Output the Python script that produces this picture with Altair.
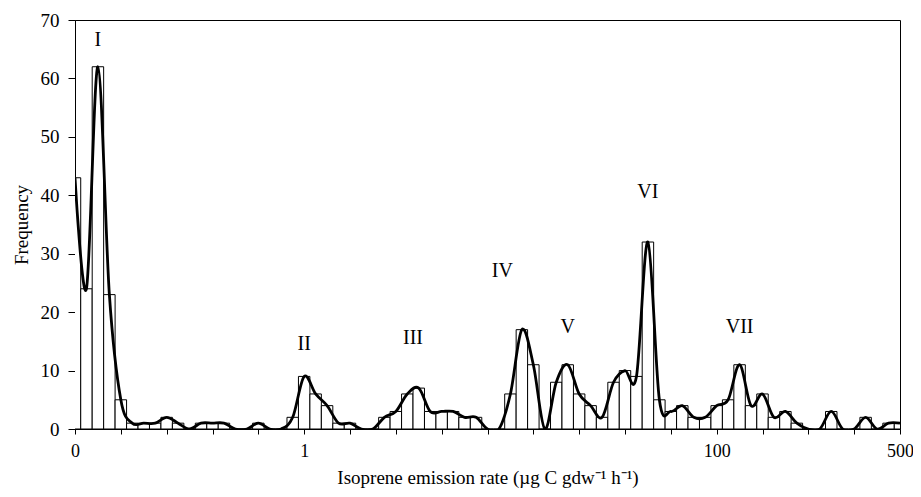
import altair as alt
import pandas as pd

# bin index along the (Excel category-like) x axis
bins = list(range(73))
freq = [43, 24, 62, 23, 5, 1, 1, 1, 2, 1,
        0, 1, 1, 1, 0, 0, 1, 0, 0, 2,
        9, 6, 4, 1, 1, 0, 0, 2, 3, 6,
        7, 3, 3, 3, 2, 2, 0, 0, 6, 17,
        11, 0, 8, 11, 6, 4, 2, 8, 10, 9,
        32, 5, 3, 4, 2, 2, 4, 5, 11, 4,
        6, 2, 3, 1, 0, 0, 3, 0, 0, 2,
        0, 1, 1]

tick_bins = list(range(0, 73, 2))
axis_label_bins = [0, 20, 38, 56, 72]
axis_label_text = ["0", "1", "10", "100", "500"]

peak_names = ["I", "II", "III", "IV", "V", "VI", "VII"]
peak_bins = [2, 20, 29.5, 37.3, 43, 50, 58]
peak_label_y = [66.5, 14.5, 15.5, 27, 17.5, 40.5, 17.5]

FONT = "Liberation Serif"

df = pd.DataFrame({"bin": bins, "freq": freq})
df["lo"] = df["bin"] - 0.5
df["hi"] = df["bin"] + 0.5
peaks = pd.DataFrame({"name": peak_names, "bin": peak_bins, "y": peak_label_y})

expr = "''"
for b, t in reversed(list(zip(axis_label_bins, axis_label_text))):
    expr = f"datum.value == {b} ? '{t}' : ({expr})"

xscale = alt.Scale(domain=[0, 72], nice=False, zero=False)
yscale = alt.Scale(domain=[0, 70], nice=False)

xaxis = alt.Axis(values=tick_bins, labelExpr=expr, tickSize=5, labelPadding=8,
                 labelFlush=False, labelOverlap=False, grid=False, labelFontSize=18,
                 title="Isoprene emission rate (µg C gdw⁻¹ h⁻¹)", titlePadding=8)
yaxis = alt.Axis(values=list(range(0, 71, 10)), tickSize=7, labelPadding=9,
                 grid=False, title="Frequency", titlePadding=9)

base = alt.Chart(df)

bars = base.mark_rect(fill="white", stroke="black", strokeWidth=1, clip=True).encode(
    x=alt.X("lo:Q", scale=xscale, axis=xaxis),
    x2="hi:Q",
    y=alt.Y("freq:Q", scale=yscale, axis=yaxis),
    y2=alt.datum(0),
)

line = base.mark_line(color="black", strokeWidth=2.8, interpolate="cardinal", clip=True).encode(
    x=alt.X("bin:Q", scale=xscale),
    y=alt.Y("freq:Q", scale=yscale),
)

labels = alt.Chart(peaks).mark_text(font=FONT, fontSize=20, baseline="middle", color="black").encode(
    x=alt.X("bin:Q", scale=xscale),
    y=alt.Y("y:Q", scale=yscale),
    text="name:N",
)

chart = alt.layer(bars, line, labels).properties(
    width=825, height=409,
    padding={"left": 67, "top": 12, "right": 13, "bottom": 60},
    autosize=alt.AutoSizeParams(type="none"),
).configure_view(stroke="black", strokeWidth=1).configure_axis(
    domainColor="black", tickColor="black", labelColor="black", titleColor="black",
    labelFont=FONT, titleFont=FONT, labelFontSize=19, titleFontSize=19,
    titleFontWeight="normal", domainWidth=1, tickWidth=1,
)

chart.save("out.html", embed_options={"renderer": "svg", "actions": False})
